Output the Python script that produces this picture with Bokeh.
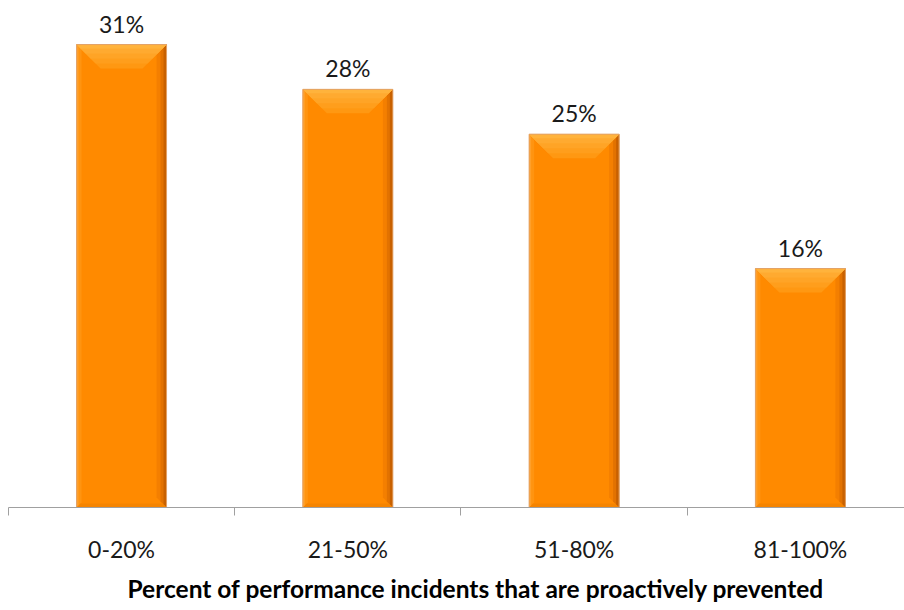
import numpy as np
from bokeh.plotting import figure
from bokeh.models import Range1d, FixedTicker, Title, ColumnDataSource
from bokeh.core.properties import value
from bokeh.embed import file_html
from bokeh.resources import INLINE

# ---- data ----
categories = ["0-20%", "21-50%", "51-80%", "81-100%"]
values = [31, 28, 25, 16]
value_labels = ["31%", "28%", "25%", "16%"]
x_title = "Percent of performance incidents that are proactively prevented"

# ---- layout constants ----
X_START, X_END = -0.535, 3.46
Y_START, Y_END = 0, 33.95
FRAME_W, FRAME_H = 904, 507
SX = FRAME_W / (X_END - X_START)   # px per x unit
SY = FRAME_H / (Y_END - Y_START)   # px per y unit
BAR_PX = 90

x = np.arange(len(categories), dtype=float)
boundaries = list(np.append(x - 0.5, x[-1] + 0.5))
hw = BAR_PX / 2 / SX

p = figure(width=904, height=610,
           x_range=Range1d(X_START, X_END), y_range=Range1d(Y_START, Y_END),
           output_backend="svg", toolbar_location=None,
           y_axis_location=None,
           min_border_left=0, min_border_right=0, min_border_top=0,
           min_border_bottom=610 - FRAME_H)
p.xgrid.visible = False
p.ygrid.visible = False
p.outline_line_color = None
p.background_fill_color = "white"
p.border_fill_color = "white"

src = ColumnDataSource(dict(x=x, top=values, lab=value_labels))

# main bar body
p.vbar(x="x", top="top", width=2 * hw, source=src,
       fill_color="#FF8A00", line_color=None)


def strip_patches(fn):
    xs, ys = [], []
    for c, t in zip(x, values):
        px, py = fn(c, t)
        xs.append(px)
        ys.append(py)
    return xs, ys


# right dark strips (bevel)
for w_px, col in [(10, "#F47F00"), (6, "#E27200"), (3, "#C86100")]:
    w = w_px / SX
    wy = w_px / SY
    xs, ys = strip_patches(lambda c, t: (
        [c + hw, c + hw, c + hw - w, c + hw - w],
        [t, 0, wy, t - wy]))
    p.patches(xs, ys, fill_color=col, line_color=None)

# left light strips
for w_px, col in [(5, "#FF9410"), (2, "#FFA02A")]:
    w = w_px / SX
    wy = w_px / SY
    xs, ys = strip_patches(lambda c, t: (
        [c - hw, c - hw, c - hw + w, c - hw + w],
        [t, 0, wy, t - wy]))
    p.patches(xs, ys, fill_color=col, line_color=None)

# bottom strip
bw = 4
xs, ys = strip_patches(lambda c, t: (
    [c - hw, c + hw, c + hw - bw / SX, c - hw + bw / SX],
    [0, 0, bw / SY, bw / SY]))
p.patches(xs, ys, fill_color="#F58400", line_color=None)

# top bevel (layered to mimic gradient)
for b_px, col in [(24, "#FF9812"), (19, "#FF9E1C"), (14, "#FFA426"),
                  (9, "#FFAA30"), (4, "#FFB33C")]:
    bx = b_px / SX
    by = b_px / SY
    xs, ys = strip_patches(lambda c, t: (
        [c - hw, c + hw, c + hw - bx, c - hw + bx],
        [t, t, t - by, t - by]))
    p.patches(xs, ys, fill_color=col, line_color=None)

# outline
p.vbar(x="x", top="top", width=2 * hw, source=src,
       fill_color=None, line_color="#E2A36A", line_width=1)

# value labels
p.text(x="x", y="top", text="lab", source=src,
       text_align="center", text_baseline="alphabetic", y_offset=-21,
       text_font=value("Lato"), text_font_size="23px", text_color="#1a1a1a")

# x axis
ax = p.xaxis[0]
ax.ticker = FixedTicker(ticks=list(x), minor_ticks=boundaries)
ax.major_label_overrides = {float(i): c for i, c in zip(x, categories)}
ax.bounds = (boundaries[0], boundaries[-1])
ax.major_tick_in = 0
ax.major_tick_out = 0
ax.minor_tick_in = 0
ax.minor_tick_out = 8
ax.minor_tick_line_color = "#A0A0A0"
ax.axis_line_color = "#A0A0A0"
ax.major_label_text_font = "Lato"
ax.major_label_text_font_size = "23px"
ax.major_label_text_color = "#1a1a1a"
ax.major_label_standoff = 19

p.add_layout(Title(text=x_title, align="left", offset=127,
                   text_font="Lato", text_font_style="bold",
                   text_font_size="24.5px", text_color="#000000",
                   standoff=13), "below")

open("out.html", "w").write(file_html(p, INLINE))
